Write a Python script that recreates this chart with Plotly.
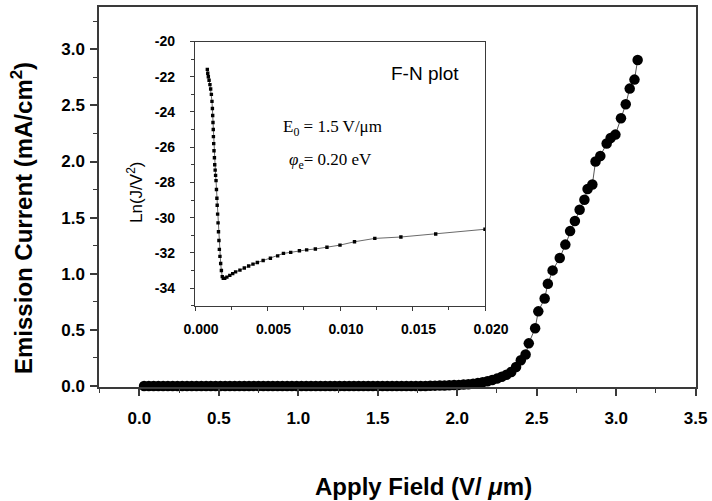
import plotly.graph_objects as go

# ---- Emission current vs applied field (main panel) ----
field_low = [0.03, 0.06, 0.09, 0.12, 0.15, 0.18, 0.21, 0.24, 0.27, 0.30,
             0.33, 0.36, 0.39, 0.42, 0.45, 0.48, 0.51, 0.54, 0.57, 0.60,
             0.63, 0.66, 0.69, 0.72, 0.75, 0.78, 0.81, 0.84, 0.87, 0.90,
             0.93, 0.96, 0.99, 1.02, 1.05, 1.08, 1.11, 1.14, 1.17, 1.20,
             1.23, 1.26, 1.29, 1.32, 1.35, 1.38, 1.41, 1.44, 1.47, 1.50,
             1.53, 1.56, 1.59, 1.62, 1.65, 1.68, 1.71, 1.74, 1.77, 1.80,
             1.83, 1.86, 1.89, 1.92, 1.95, 1.98, 2.01, 2.04, 2.07, 2.10,
             2.13, 2.16, 2.19, 2.22, 2.25, 2.28, 2.31, 2.34, 2.37]
current_low = [0.0, 0.0, 0.0, 0.0, 0.0, 0.0, 0.0, 0.0, 0.0, 0.0,
               0.0, 0.0, 0.0, 0.0, 0.0, 0.0, 0.0, 0.0, 0.0, 0.0,
               0.0, 0.0, 0.0, 0.0, 0.0, 0.0, 0.0, 0.0, 0.0, 0.0,
               0.0, 0.0, 0.0, 0.0, 0.0, 0.0, 0.0, 0.0, 0.0, 0.0,
               0.0, 0.0, 0.0, 0.0, 0.0, 0.0, 0.0, 0.0, 0.0, 0.0,
               0.0, 0.0, 0.0, 0.0, 0.0, 0.0, 0.0, 0.0, 0.0, 0.0,
               0.002, 0.003, 0.004, 0.005, 0.006, 0.008, 0.010, 0.013, 0.016, 0.020,
               0.026, 0.033, 0.042, 0.053, 0.066, 0.082, 0.100, 0.125, 0.170]
field_high = [2.40, 2.43, 2.45, 2.49, 2.51, 2.55, 2.57, 2.60, 2.645, 2.68,
              2.71, 2.74, 2.77, 2.80, 2.82, 2.85, 2.87, 2.90, 2.94, 2.965,
              2.995, 3.03, 3.06, 3.085, 3.115, 3.135]
current_high = [0.23, 0.28, 0.38, 0.515, 0.665, 0.78, 0.91, 1.03, 1.14, 1.26,
                1.38, 1.47, 1.57, 1.66, 1.755, 1.795, 2.00, 2.05, 2.16, 2.21,
                2.24, 2.385, 2.51, 2.65, 2.73, 2.905]

# ---- Fowler-Nordheim plot (inset) ----
fn_x = [0.00085, 0.00088, 0.00092, 0.00097, 0.00103, 0.00108, 0.00113, 0.00117,
        0.00120, 0.00122, 0.00124, 0.00126, 0.00127, 0.00129, 0.00131, 0.00134,
        0.00136, 0.00139, 0.00142, 0.00145, 0.00148, 0.00151, 0.00153, 0.00156,
        0.00159, 0.00162, 0.00165, 0.00168, 0.00172, 0.00177, 0.00182, 0.00188,
        0.00195, 0.00205, 0.0022, 0.0024, 0.0026, 0.0028, 0.0031, 0.0034,
        0.0037, 0.0040, 0.0043, 0.0047, 0.0052, 0.0057, 0.0061, 0.0066,
        0.0072, 0.0077, 0.0083, 0.0091, 0.0100, 0.0110, 0.0124, 0.0142,
        0.0166, 0.0200]
fn_y = [-21.58, -21.8, -22.0, -22.2, -22.45, -22.7, -23.0, -23.4,
        -23.8, -24.2, -24.6, -25.0, -25.4, -25.8, -26.2, -26.6,
        -27.0, -27.3, -27.6, -27.9, -28.4, -28.9, -29.3, -29.8,
        -30.3, -30.8, -31.3, -31.8, -32.2, -32.6, -33.0, -33.35,
        -33.45, -33.45, -33.38, -33.28, -33.18, -33.08, -32.98, -32.86,
        -32.75, -32.64, -32.55, -32.43, -32.31, -32.17, -32.03, -31.97,
        -31.88, -31.83, -31.78, -31.68, -31.56, -31.37, -31.18, -31.10,
        -30.93, -30.66]

# ---- tick labels ----
main_x_ticks = [0.0, 0.5, 1.0, 1.5, 2.0, 2.5, 3.0, 3.5]
main_x_text = ["0.0", "0.5", "1.0", "1.5", "2.0", "2.5", "3.0", "3.5"]
main_y_ticks = [0.0, 0.5, 1.0, 1.5, 2.0, 2.5, 3.0]
main_y_text = ["0.0", "0.5", "1.0", "1.5", "2.0", "2.5", "3.0"]
fn_x_ticks = [0.000, 0.005, 0.010, 0.015, 0.020]
fn_x_text = ["0.000", "0.005", "0.010", "0.015", "0.020"]
fn_y_ticks = [-34, -32, -30, -28, -26, -24, -22, -20]
fn_y_text = ["-34", "-32", "-30", "-28", "-26", "-24", "-22", "-20"]

W, H = 712, 501
ML, MR, MT, MB = 99, 16, 7, 114
PW, PH = W - ML - MR, H - MT - MB


def px(x):
    return (x - ML) / PW


def py(y):
    return (H - MB - y) / PH


SANS = "Liberation Sans, Arial, sans-serif"
SERIF = "Liberation Serif, Times New Roman, serif"
AXIS_COLOR = "#3a3a3a"

field = field_low + field_high
current = current_low + current_high

fig = go.Figure()
fig.add_trace(go.Scatter(
    x=field, y=current, mode="lines+markers",
    line=dict(color="#555555", width=1),
    marker=dict(symbol="circle", size=10.5, color="black"),
    xaxis="x", yaxis="y", showlegend=False, cliponaxis=False,
))
fig.add_trace(go.Scatter(
    x=fn_x, y=fn_y, mode="lines+markers",
    line=dict(color="#444444", width=0.8),
    marker=dict(symbol="square", size=3.4, color="black"),
    xaxis="x2", yaxis="y2", showlegend=False,
))

tick_font = dict(family=SANS, size=17, color="black", weight="bold")
inset_tick_font = dict(family=SANS, size=14, color="black", weight="bold")

fig.update_layout(
    width=W, height=H,
    margin=dict(l=ML, r=MR, t=MT, b=MB, pad=0, autoexpand=False),
    paper_bgcolor="white", plot_bgcolor="white",
    xaxis=dict(
        domain=[0, 1], range=[-0.2535, 3.502], automargin=False,
        tickmode="array", tickvals=main_x_ticks, ticktext=main_x_text,
        ticks="outside", ticklen=7, tickwidth=1.5, tickcolor=AXIS_COLOR,
        minor=dict(dtick=0.25, tick0=0, ticks="outside", ticklen=4,
                   tickwidth=1.2, tickcolor=AXIS_COLOR),
        showline=True, linecolor=AXIS_COLOR, linewidth=1.5, mirror=True,
        showgrid=False, zeroline=False, tickfont=tick_font,
        ticklabelstandoff=8,
    ),
    yaxis=dict(
        domain=[0, 1], range=[-0.0089, 3.377], automargin=False,
        tickmode="array", tickvals=main_y_ticks, ticktext=main_y_text,
        ticks="outside", ticklen=7, tickwidth=1.5, tickcolor=AXIS_COLOR,
        minor=dict(dtick=0.25, tick0=0, ticks="outside", ticklen=4,
                   tickwidth=1.2, tickcolor=AXIS_COLOR),
        showline=True, linecolor=AXIS_COLOR, linewidth=1.5, mirror=True,
        showgrid=False, zeroline=False, tickfont=tick_font,
        ticklabelstandoff=2,
    ),
    xaxis2=dict(
        domain=[px(195), px(485)], anchor="y2", range=[0, 0.020],
        automargin=False,
        tickmode="array", tickvals=fn_x_ticks, ticktext=fn_x_text,
        ticks="outside", ticklen=4, tickwidth=1.2, tickcolor=AXIS_COLOR,
        minor=dict(dtick=0.0025, tick0=0, ticks="outside", ticklen=3,
                   tickwidth=1, tickcolor=AXIS_COLOR),
        showline=True, linecolor=AXIS_COLOR, linewidth=1.2, mirror=True,
        showgrid=False, zeroline=False, tickfont=inset_tick_font,
        ticklabelstandoff=6, ticklabelshift=6,
    ),
    yaxis2=dict(
        domain=[py(305.7), py(41.5)], anchor="x2", range=[-35, -20],
        automargin=False,
        tickmode="array", tickvals=fn_y_ticks, ticktext=fn_y_text,
        ticks="outside", ticklen=4, tickwidth=1.2, tickcolor=AXIS_COLOR,
        minor=dict(dtick=1, tick0=0, ticks="outside", ticklen=3,
                   tickwidth=1, tickcolor=AXIS_COLOR),
        showline=True, linecolor=AXIS_COLOR, linewidth=1.2, mirror=True,
        showgrid=False, zeroline=False, tickfont=inset_tick_font,
        ticklabelstandoff=12,
    ),
)

annotations = [
    dict(x=px(423), y=py(486), text="Apply Field (V/ <i>μ</i>m)",
         font=dict(family=SANS, size=24, color="black", weight="bold")),
    dict(x=px(22), y=py(218), text="Emission Current (mA/cm<sup>2</sup>)",
         textangle=-90,
         font=dict(family=SANS, size=24, color="black", weight="bold")),
    dict(x=px(135), y=py(193), text="Ln(J/V<sup>2</sup>)", textangle=-90,
         font=dict(family=SANS, size=17, color="black")),
    dict(x=px(425), y=py(73), text="F-N plot",
         font=dict(family=SANS, size=19, color="black")),
    dict(x=px(332), y=py(128), text="E<sub>0</sub> = 1.5 V/μm",
         font=dict(family=SERIF, size=17, color="black")),
    dict(x=px(330), y=py(161), text="<i>φ</i><sub>e</sub>= 0.20 eV",
         font=dict(family=SERIF, size=17, color="black")),
]
for a in annotations:
    a.update(xref="paper", yref="paper", showarrow=False,
             xanchor="center", yanchor="middle")
fig.update_layout(annotations=annotations)

fig.write_html("out.html")
